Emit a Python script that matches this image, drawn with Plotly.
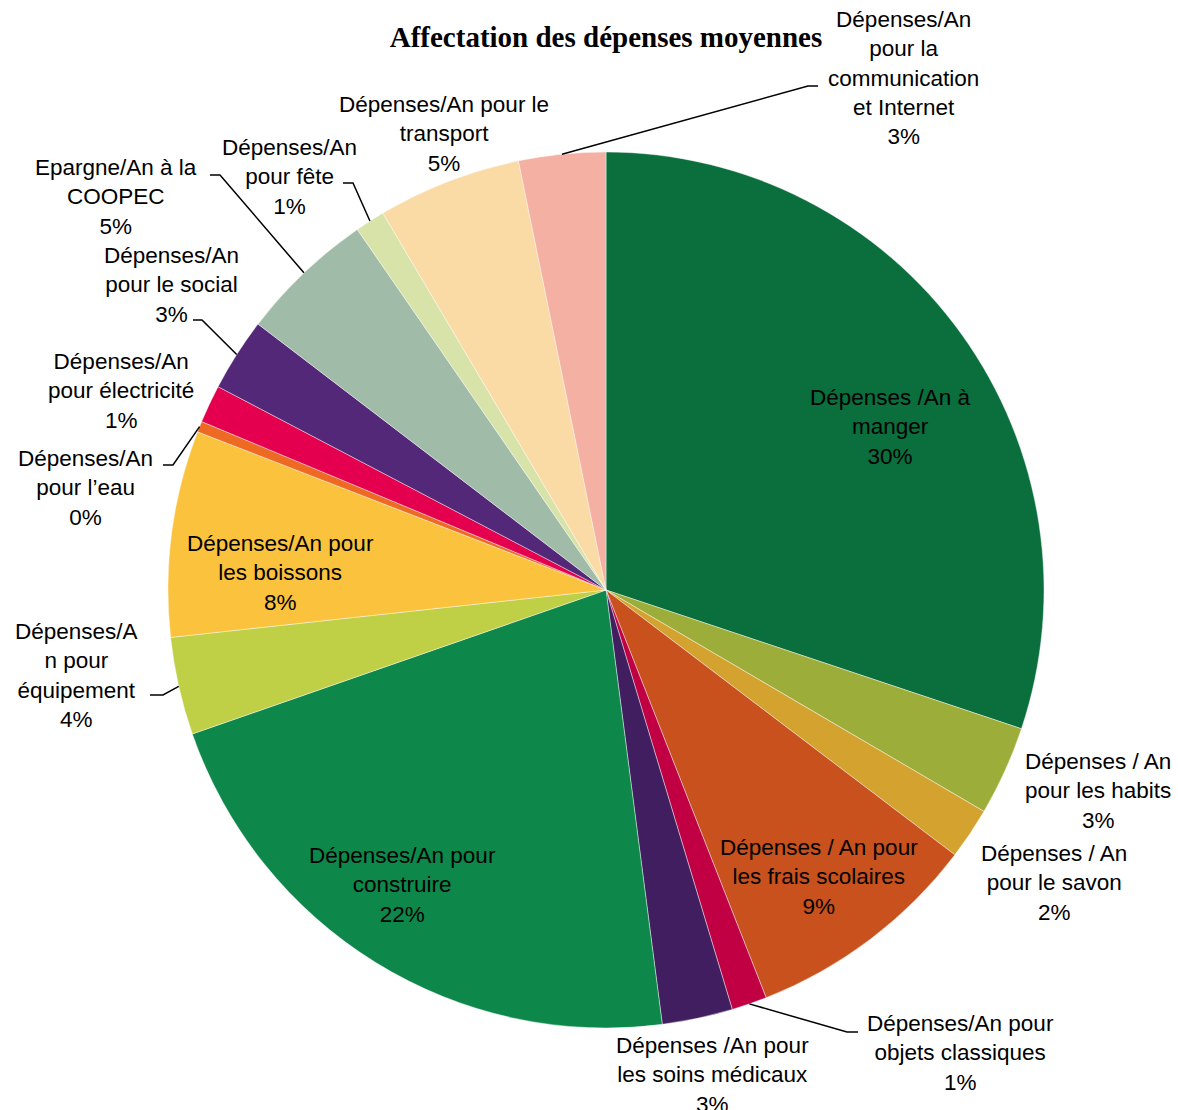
import math
import plotly.graph_objects as go

W, H = 1178, 1110

labels = [
    "Dépenses /An à<br>manger",
    "Dépenses / An<br>pour les habits",
    "Dépenses / An<br>pour le savon",
    "Dépenses / An pour<br>les frais scolaires",
    "Dépenses/An pour<br>objets classiques",
    "Dépenses /An pour<br>les soins médicaux",
    "Dépenses/An pour<br>construire",
    "Dépenses/A<br>n pour<br>équipement",
    "Dépenses/An pour<br>les boissons",
    "Dépenses/An<br>pour l’eau",
    "Dépenses/An<br>pour électricité",
    "Dépenses/An<br>pour le social",
    "Epargne/An à la<br>COOPEC",
    "Dépenses/An<br>pour fête",
    "Dépenses/An pour le<br>transport",
    "Dépenses/An<br>pour la<br>communication<br>et Internet",
]
values = [30.1, 3.3, 1.9, 8.7, 1.3, 2.6, 21.7, 3.6, 7.6, 0.4, 1.4, 2.7, 5.0, 1.1, 5.3, 3.2]
colors = ["#0B6E3D", "#9DAD3A", "#D3A22F", "#C8511D", "#C10044", "#401E60",
          "#0E884A", "#BFCF46", "#FBC33D", "#EE6A23", "#E4004F", "#532878",
          "#A0BCA9", "#D8E3A9", "#FADAA5", "#F4B0A2"]

# layout: label centres (pixels) and optional leader-line elbows (pixels)
label_pos = [(890, 427), (1098, 791), (1054, 883), (819, 877), (960, 1053),
             (712, 1075), (402, 885), (76, 675), (280, 573), (85, 488),
             (121, 391), (171, 285), (116, 197), (289, 177), (444, 134),
             (903, 78)]
leaders = {
    4: [(847, 1032), (858, 1032)],
    7: [(163, 695), (150, 695)],
    9: [(173, 465), (163, 465)],
    11: [(202, 320), (193, 320)],
    12: [(220, 175), (210, 175)],
    13: [(353, 183), (343, 183)],
    15: [(808, 86), (818, 86)],
}

CX, CY, R = 606, 590, 438

def px(x):
    return x / W

def py(y):
    return 1 - y / H

fig = go.Figure(go.Pie(
    labels=[l.replace("<br>", " ") for l in labels],
    values=values,
    sort=False,
    direction="clockwise",
    rotation=0,
    marker=dict(colors=colors, line=dict(color="rgba(255,255,255,0.7)", width=0.6)),
    textinfo="none",
    showlegend=False,
    domain=dict(x=[px(CX - R), px(CX + R)], y=[py(CY + R), py(CY - R)]),
))

total = sum(values)
annotations = []
shapes = []
cum = 0.0
for i, (lab, v) in enumerate(zip(labels, values)):
    pct = round(100 * v / total)
    lx, ly = label_pos[i]
    annotations.append(dict(
        x=px(lx), y=py(ly), xref="paper", yref="paper",
        text=f"{lab}<br>{pct}%", showarrow=False,
        xanchor="center", yanchor="middle", align="center",
        font=dict(family="Liberation Sans, Arial", size=22.5, color="black"),
    ))
    mid = 2 * math.pi * (cum + v / 2) / total
    cum += v
    if i in leaders:
        sx = CX + R * math.sin(mid)
        sy = CY - R * math.cos(mid)
        pts = [(sx, sy)] + leaders[i]
        path = "M " + " L ".join(f"{px(a)},{py(b)}" for a, b in pts)
        shapes.append(dict(type="path", path=path, xref="paper", yref="paper",
                           line=dict(color="black", width=1.5)))

fig.update_layout(
    width=W, height=H,
    margin=dict(l=0, r=0, t=0, b=0),
    paper_bgcolor="white", plot_bgcolor="white",
    title=dict(text="<b>Affectation des dépenses moyennes</b>",
               x=px(606), y=py(37), xref="paper", yref="paper",
               xanchor="center", yanchor="middle",
               font=dict(family="Liberation Serif, Times New Roman", size=29, color="black")),
    annotations=annotations,
    shapes=shapes,
)

fig.write_html("out.html")
